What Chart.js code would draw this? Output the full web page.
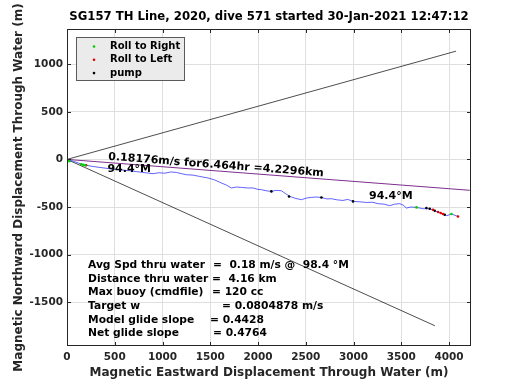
<!DOCTYPE html>
<html>
<head>
<meta charset="utf-8">
<script src="https://cdn.jsdelivr.net/npm/chart.js@4.4.1/dist/chart.umd.min.js"></script>
<style>
  body { margin: 0; background: #fff; }
  canvas { display: block; }
</style>
</head>
<body>
<canvas id="chart" width="520" height="390"></canvas>
<script>
var xTicks = [0, 500, 1000, 1500, 2000, 2500, 3000, 3500, 4000];
var yTicks = [-1500, -1000, -500, 0, 500, 1000];

// glider track through water (m east, m north)
var trackX = [0, 81, 168, 290, 447, 560, 657, 780, 901, 960, 1023, 1085, 1146, 1200, 1250, 1320, 1390, 1476,
  1545, 1617, 1670, 1721, 1775, 1826, 1890, 1948, 2000, 2036, 2090, 2140, 2190, 2245, 2290, 2332, 2395, 2454,
  2510, 2559, 2610, 2664, 2720, 2769, 2830, 2890, 2940, 2995, 3060, 3135, 3200, 3257, 3320, 3379, 3430, 3484,
  3520, 3554, 3600, 3659, 3728, 3798, 3850, 3885, 3937, 3976, 4025, 4094];
var trackY = [0, -24, -56, -77, -98, -110, -119, -135, -150, -140, -145, -132, -137, -150, -161, -165, -179, -195,
  -215, -248, -270, -300, -290, -294, -300, -300, -315, -318, -330, -336, -325, -329, -360, -389, -410, -423,
  -405, -399, -395, -400, -415, -413, -425, -431, -420, -441, -445, -452, -450, -465, -470, -486, -470, -465,
  -480, -511, -500, -504, -518, -518, -539, -553, -574, -591, -574, -599];

var rollRightX = [5, 15, 25, 150, 170, 190, 3659, 4025];
var rollRightY = [-5, -12, -20, -50, -56, -62, -504, -574];
var rollLeftX = [-5, 200, 3832, 3885, 3913, 3937, 4094];
var rollLeftY = [-15, -62, -528, -553, -563, -574, -599];
var pumpX = [2140, 2325, 2664, 2995, 3763, 3798, 3850, 3955];
var pumpY = [-336, -389, -400, -441, -510, -518, -539, -581];

var headingX = [0, 4217.1];
var headingY = [0, -324.5];
var upperX = [0, 4073.8];
var upperY = [0, 1137.4];
var lowerX = [0, 3851.8];
var lowerY = [0, -1747.3];

var titleText = "SG157 TH Line, 2020, dive 571 started 30-Jan-2021 12:47:12";
var xTitle = "Magnetic Eastward Displacement Through Water (m)";
var yTitle = "Magnetic Northward Displacement Through Water (m)";
var lineNote = "0.18176m/s for6.464hr =4.2296km";
var headingNote = "94.4\u00b0M";
var summaryLabels = ["Avg Spd thru water", "Distance thru water", "Max buoy (cmdfile)", "Target w",
  "Model glide slope", "Net glide slope"];
var summaryValues = ["=  0.18 m/s @  98.4 \u00b0M", "=  4.16 km", "= 120 cc", "= 0.0804878 m/s",
  "= 0.4428", "= 0.4764"];

function toPoints(xs, ys) {
  return xs.map(function (x, i) { return { x: x, y: ys[i] }; });
}

var FONT = "'DejaVu Sans', sans-serif";
var INK = "#262626";

function markerSet(label, xs, ys, color) {
  return {
    label: label,
    data: toPoints(xs, ys),
    showLine: false,
    pointRadius: 1.3,
    pointBorderWidth: 0,
    pointBackgroundColor: color,
    backgroundColor: color
  };
}

function lineSet(label, xs, ys, color, width) {
  return {
    label: label,
    data: toPoints(xs, ys),
    showLine: true,
    pointRadius: 0,
    borderColor: color,
    borderWidth: width,
    tension: 0
  };
}

var decor = {
  id: "decor",
  beforeDraw: function (chart) {
    var ctx = chart.ctx;
    ctx.save();
    ctx.fillStyle = "#fff";
    ctx.fillRect(0, 0, chart.width, chart.height);
    ctx.restore();
  },
  afterDatasetsDraw: function (chart) {
    var ctx = chart.ctx;
    var a = chart.chartArea;
    var sx = chart.scales.x, sy = chart.scales.y;
    ctx.save();

    // axes box and inward ticks
    ctx.strokeStyle = INK;
    ctx.lineWidth = 1;
    ctx.strokeRect(Math.round(a.left) + 0.5, Math.round(a.top) + 0.5,
      Math.round(a.right - a.left) - 1, Math.round(a.bottom - a.top) - 1);
    ctx.beginPath();
    xTicks.forEach(function (v) {
      var px = Math.round(sx.getPixelForValue(v)) + 0.5;
      ctx.moveTo(px, a.bottom); ctx.lineTo(px, a.bottom - 4);
      ctx.moveTo(px, a.top); ctx.lineTo(px, a.top + 4);
    });
    yTicks.forEach(function (v) {
      var py = Math.round(sy.getPixelForValue(v)) + 0.5;
      ctx.moveTo(a.left, py); ctx.lineTo(a.left + 4, py);
      ctx.moveTo(a.right, py); ctx.lineTo(a.right - 4, py);
    });
    ctx.stroke();

    // notes on the plot
    ctx.fillStyle = "#000";
    ctx.font = "bold 11px " + FONT;
    ctx.textAlign = "left";
    ctx.textBaseline = "alphabetic";
    ctx.save();
    ctx.translate(sx.getPixelForValue(430), sy.getPixelForValue(-3));
    ctx.rotate(4.4 * Math.PI / 180);
    ctx.fillText(lineNote, 0, 0);
    ctx.restore();
    ctx.fillText(headingNote, sx.getPixelForValue(423), sy.getPixelForValue(-134));
    ctx.fillText(headingNote, sx.getPixelForValue(3162), sy.getPixelForValue(-413));

    ctx.font = "bold 10.7px " + FONT;
    var valueX = [213, 212, 212, 222, 210, 213];
    var bx = sx.getPixelForValue(220);
    var by = sy.getPixelForValue(-1143);
    summaryLabels.forEach(function (lab, i) {
      ctx.fillText(lab, bx, by + i * 13.6);
      ctx.fillText(summaryValues[i], valueX[i], by + i * 13.6);
    });

    // legend
    var lx = a.left + 9.5, ly = a.top + 8.5;
    ctx.fillStyle = "#ebebeb";
    ctx.fillRect(lx, ly, 108, 43);
    ctx.strokeStyle = "#5a5a5a";
    ctx.strokeRect(lx, ly, 108, 43);
    ctx.font = "bold 10px " + FONT;
    ctx.textBaseline = "middle";
    for (var i = 0; i < 3; i++) {
      var ds = chart.data.datasets[i];
      var ry = ly + 9 + i * 13.3;
      ctx.fillStyle = ds.pointBackgroundColor;
      ctx.beginPath();
      ctx.arc(lx + 17.5, ry, 1.3, 0, Math.PI * 2);
      ctx.fill();
      ctx.fillStyle = "#000";
      ctx.fillText(ds.label, lx + 33.5, ry);
    }

    // title and y axis title
    ctx.fillStyle = "#000";
    ctx.font = "bold 11.7px " + FONT;
    ctx.textAlign = "center";
    ctx.fillText(titleText, (a.left + a.right) / 2, 17);
    ctx.fillStyle = INK;
    ctx.font = "bold 12px " + FONT;
    ctx.translate(19, (a.top + a.bottom) / 2);
    ctx.rotate(-Math.PI / 2);
    ctx.fillText(yTitle, 0, 0);
    ctx.restore();
  }
};

function plainTick(value) {
  return String(value);
}

new Chart(document.getElementById("chart"), {
  type: "scatter",
  data: {
    datasets: [
      markerSet("Roll to Right", rollRightX, rollRightY, "#00d000"),
      markerSet("Roll to Left", rollLeftX, rollLeftY, "#e00000"),
      markerSet("pump", pumpX, pumpY, "#000000"),
      lineSet("track", trackX, trackY, "#2020ff", 0.7),
      lineSet("heading", headingX, headingY, "#7e2f8e", 1),
      lineSet("upper", upperX, upperY, "#000000", 0.7),
      lineSet("lower", lowerX, lowerY, "#000000", 0.7)
    ]
  },
  options: {
    responsive: false,
    animation: false,
    layout: { padding: { left: 0, top: 29, right: 49, bottom: 0 } },
    plugins: {
      legend: { display: false },
      tooltip: { enabled: false }
    },
    scales: {
      x: {
        type: "linear",
        min: 0,
        max: 4230,
        afterBuildTicks: function (scale) {
          scale.ticks = xTicks.map(function (v) { return { value: v }; });
        },
        afterFit: function (scale) { scale.height = 44; },
        grid: { color: "#dfdfdf", drawTicks: false },
        border: { display: false },
        ticks: { color: INK, padding: 5, maxRotation: 0, callback: plainTick,
          font: { family: FONT, size: 10.5, weight: "bold" } },
        title: {
          display: true,
          text: xTitle,
          color: INK,
          padding: { top: 0, bottom: 10 },
          font: { family: FONT, size: 12, weight: "bold" }
        }
      },
      y: {
        type: "linear",
        min: -1960,
        max: 1370,
        afterBuildTicks: function (scale) {
          scale.ticks = yTicks.map(function (v) { return { value: v }; });
        },
        afterFit: function (scale) { scale.width = 67; },
        grid: { color: "#dfdfdf", drawTicks: false },
        border: { display: false },
        ticks: { color: INK, padding: 4, callback: plainTick,
          font: { family: FONT, size: 10.5, weight: "bold" } }
      }
    }
  },
  plugins: [decor]
});
</script>
</body>
</html>
